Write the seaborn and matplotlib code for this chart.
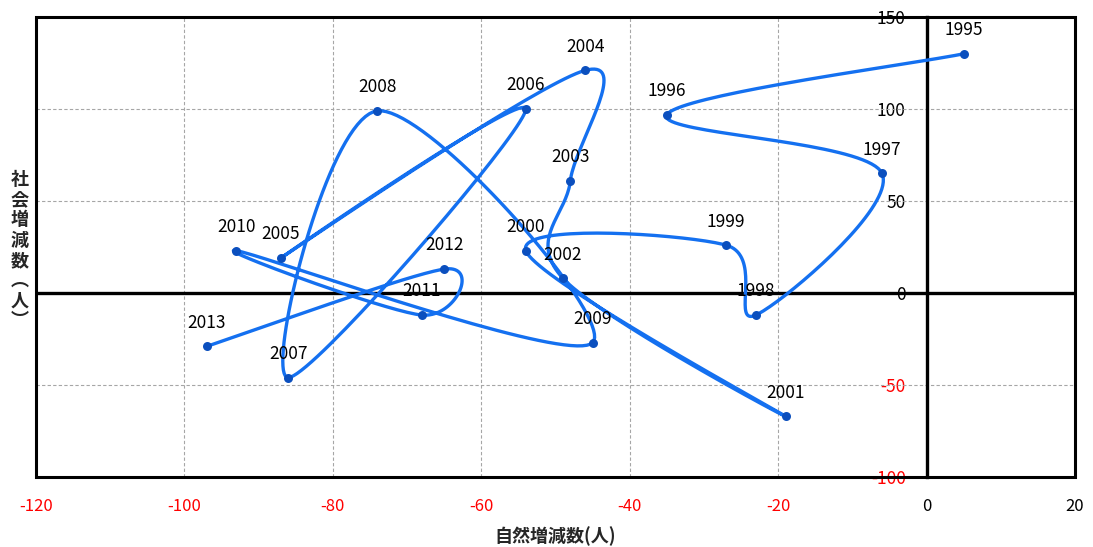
import numpy as np
import pandas as pd
import matplotlib
matplotlib.use('Agg')
import matplotlib.pyplot as plt
from matplotlib.patches import Rectangle
import seaborn as sns

# Data: natural change (x) vs social change (y), by year
years = [1995, 1996, 1997, 1998, 1999, 2000, 2001, 2002, 2003, 2004,
         2005, 2006, 2007, 2008, 2009, 2010, 2011, 2012, 2013]
natural = [5, -35, -6, -23, -27, -54, -19, -49, -48, -46,
           -87, -54, -86, -74, -45, -93, -68, -65, -97]
social = [130, 97, 65, -12, 26, 23, -67, 8, 61, 121,
          19, 100, -46, 99, -27, 23, -12, 13, -29]

x_ticks = [-120, -100, -80, -60, -40, -20, 0, 20]
y_ticks = [-100, -50, 0, 50, 100, 150]

LINE_COLOR = '#1470F0'
DOT_COLOR = '#0B4FBE'
NEG_COLOR = '#FF0000'


def smooth_path(ax, xs, ys, steps=40):
    # Excel-like smoothed line: cubic Bezier with Catmull-Rom control points,
    # computed in display space so the shape follows the on-screen geometry
    pts = ax.transData.transform(np.column_stack([xs, ys]))
    n = len(pts)
    out = []
    t = np.linspace(0, 1, steps)[:, None]
    for i in range(n - 1):
        p0 = pts[i]
        p3 = pts[i + 1]
        prev = pts[i - 1] if i > 0 else pts[i]
        nxt = pts[i + 2] if i + 2 < n else pts[i + 1]
        c1 = p0 + (p3 - prev) / 6.0
        c2 = p3 - (nxt - p0) / 6.0
        seg = ((1 - t) ** 3) * p0 + 3 * ((1 - t) ** 2) * t * c1 \
            + 3 * (1 - t) * (t ** 2) * c2 + (t ** 3) * p3
        out.append(seg if i == 0 else seg[1:])
    curve = np.vstack(out)
    return ax.transData.inverted().transform(curve)


sns.set_theme(style='white')
plt.rcParams['font.family'] = ['Noto Sans CJK JP', 'DejaVu Sans']

fig = plt.figure(figsize=(10.93, 5.47), dpi=100)
ax = fig.add_axes([36 / 1093, 1 - 477 / 547, 1039 / 1093, 460 / 547])
ax.set_xlim(-120, 20)
ax.set_ylim(-100, 150)

# Dashed grid
for xv in x_ticks[1:-1]:
    ax.axvline(xv, color='#A6A6A6', lw=0.8, ls=(0, (3, 2)), zorder=1)
for yv in y_ticks[1:-1]:
    ax.axhline(yv, color='#A6A6A6', lw=0.8, ls=(0, (3, 2)), zorder=1)

# Zero line
ax.axhline(0, color='black', lw=2.4, zorder=2)

# Smoothed line and points
df = pd.DataFrame({'year': years, 'natural': natural, 'social': social})
curve = smooth_path(ax, df['natural'].values, df['social'].values)
curve_df = pd.DataFrame({'x': curve[:, 0], 'y': curve[:, 1]})
sns.lineplot(data=curve_df, x='x', y='y', sort=False, estimator=None,
             color=LINE_COLOR, lw=2.4, ax=ax, zorder=3)
sns.scatterplot(data=df, x='natural', y='social', color=DOT_COLOR, s=42,
                edgecolor=DOT_COLOR, linewidth=0, ax=ax, zorder=4)

for yr, xv, yv in zip(years, natural, social):
    ax.annotate(str(yr), (xv, yv), xytext=(0, 17), textcoords='offset points',
                ha='center', va='center', fontsize=12.5, color='black',
                zorder=5)

# Axes: left spine sits on x = 0, frame drawn separately
for side in ['top', 'right', 'bottom']:
    ax.spines[side].set_visible(False)
ax.spines['left'].set_position(('data', 0))
ax.spines['left'].set_linewidth(2.4)
ax.spines['left'].set_color('black')
ax.spines['left'].set_zorder(2)
ax.add_patch(Rectangle((0, 0), 1, 1, transform=ax.transAxes, fill=False,
                       edgecolor='black', lw=2.2, clip_on=False, zorder=6))

ax.set_xticks(x_ticks)
ax.set_yticks(y_ticks)
ax.set_xticklabels([str(v) for v in x_ticks])
ax.set_yticklabels([str(v) for v in y_ticks])
ax.tick_params(axis='x', length=0, pad=15, labelsize=12)
ax.tick_params(axis='y', length=0, pad=15, labelsize=12.5)
for lab, v in zip(ax.get_xticklabels(), x_ticks):
    lab.set_color(NEG_COLOR if v < 0 else 'black')
for lab, v in zip(ax.get_yticklabels(), y_ticks):
    lab.set_color(NEG_COLOR if v < 0 else 'black')

ax.set_xlabel('自然増減数(人)', fontsize=13, fontweight='bold', labelpad=8)
ax.set_ylabel('\n'.join(list('社会増減数') + ['︵', '人', '︶']),
              rotation=0, fontsize=13, fontweight='bold', linespacing=1.08,
              ha='center', va='center')
ax.yaxis.set_label_coords(-0.0154, 0.493)

fig.savefig('out.png', dpi=100)
plt.close(fig)
